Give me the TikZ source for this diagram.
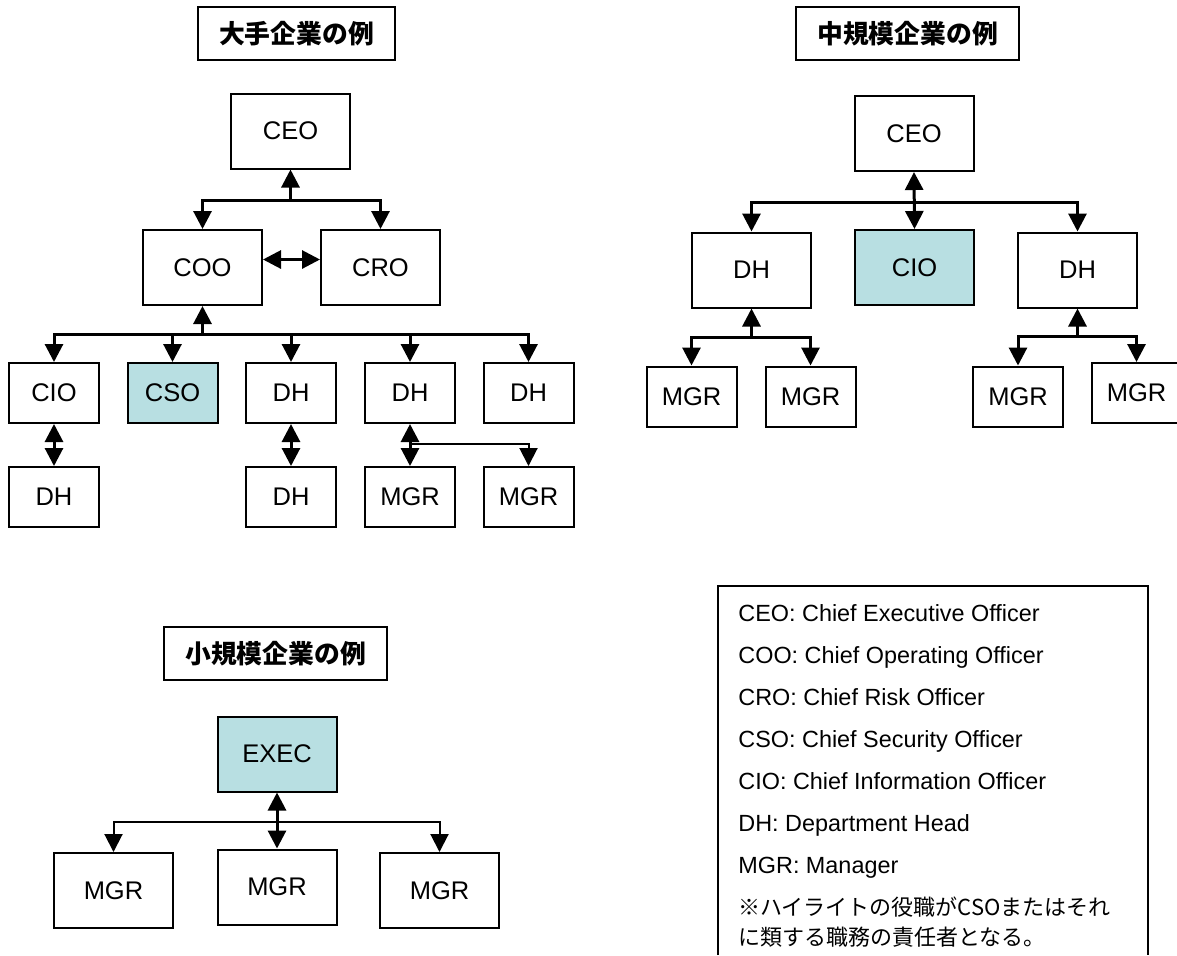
\documentclass[tikz,border=0pt]{standalone}
\usepackage{fontspec}
\setmainfont{Liberation Sans}
\newfontfamily\jpfont{Noto Sans CJK JP}
\usetikzlibrary{arrows.meta}
\definecolor{hilite}{RGB}{184,223,226}

\begin{document}
\begin{tikzpicture}[x=0.5pt,y=-0.5pt,
  post/.style={draw, line width=1pt, inner sep=0pt, minimum width=59.5pt, minimum height=37.5pt, font=\fontsize{12.75}{15}\selectfont},
  unit/.style={post, minimum width=45pt, minimum height=30pt},
  lit/.style={fill=hilite},
  heading/.style={draw, line width=1pt, minimum height=26.5pt, inner xsep=10.5pt, inner ysep=0pt, font=\jpfont\bfseries\fontsize{12.9}{15}\selectfont},
  link/.style={line width=1.5pt, -{Triangle[length=9pt,width=9pt]}},
  both/.style={line width=1.5pt, {Triangle[length=9pt,width=9pt]}-{Triangle[length=9pt,width=9pt]}},
  fine/.style={link, line width=1pt},
  entry/.style={anchor=base west, inner sep=0pt, font=\fontsize{11.7}{14}\selectfont}]
\useasboundingbox (0,0) rectangle (1177,955);

% Large company
\node[heading] (bigt) at (296.5,33.5) {大手企業の例};
\node[post] (lceo) at (290.5,131) {CEO};
\node[post] (lcoo) at (202.5,267.5) {COO};
\node[post] (lcro) at (380.5,267.5) {CRO};
\node[unit] (lcio) at (54,393) {CIO};
\node[unit,lit] (lcso) at (172.5,393) {CSO};
\node[unit] (ldh1) at (291,393) {DH};
\node[unit] (ldh2) at (410,393) {DH};
\node[unit] (ldh3) at (528.5,393) {DH};
\node[unit] (ldh4) at (54,497) {DH};
\node[unit] (ldh5) at (291,497) {DH};
\node[unit] (lmgr1) at (410,497) {MGR};
\node[unit] (lmgr2) at (528.5,497) {MGR};
\coordinate (lj1) at (290.5,200);
\coordinate (lj2) at (202.5,334);
\coordinate (lj3) at (410,444);

% The links:
\draw[link] (lj1) -- (lceo.south);
\draw[link] (lj1) -| (lcoo.north);
\draw[link] (lj1) -| (lcro.north);
\draw[both] ([yshift=4pt]lcoo.east) -- ([yshift=4pt]lcro.west);
\draw[link] (lj2) -- (lcoo.south);
\foreach \n in {lcio,lcso,ldh1,ldh2,ldh3}
  \draw[link] (lj2) -| (\n.north);
\draw[both] (lcio.south) -- (ldh4.north);
\draw[both] (ldh1.south) -- (ldh5.north);
\draw[both] (ldh2.south) -- (lmgr1.north);
\draw[fine] (lj3) -| (lmgr2.north);

% Medium company
\node[heading] (midt) at (907.5,33.5) {中規模企業の例};
\node[post] (mceo) at (914,133.5) {CEO};
\node[post] (mdh1) at (751.5,270) {DH};
\node[post,lit] (mcio) at (914.5,267.5) {CIO};
\node[post] (mdh2) at (1077.5,270) {DH};
\node[unit] (mmgr1) at (691.5,396.5) {MGR};
\node[unit] (mmgr2) at (810.5,396.5) {MGR};
\node[unit] (mmgr3) at (1018,396.5) {MGR};
\node[unit] (mmgr4) at (1136.5,393) {MGR};
\coordinate (mj1) at (914,202);
\coordinate (mj2) at (751.5,337);
\coordinate (mj3) at (1077.5,336);

% The links:
\draw[both] (mceo.south) -- (mcio.north);
\draw[link] (mj1) -| (mdh1.north);
\draw[link] (mj1) -| (mdh2.north);
\draw[link] (mj2) -- (mdh1.south);
\draw[link] (mj2) -| (mmgr1.north);
\draw[link] (mj2) -| (mmgr2.north);
\draw[link] (mj3) -- (mdh2.south);
\draw[link] (mj3) -| (mmgr3.north);
\draw[link] (mj3) -| (mmgr4.north);

% Small company
\node[heading] (smallt) at (275.5,653.5) {小規模企業の例};
\node[post,lit] (sexec) at (277,754) {EXEC};
\node[post] (smgr1) at (113.5,890.5) {MGR};
\node[post] (smgr2) at (277,887) {MGR};
\node[post] (smgr3) at (439.5,890.5) {MGR};
\coordinate (sj) at (277,822);
\draw[both] (sexec.south) -- (smgr2.north);
\draw[fine] (sj) -| (smgr1.north);
\draw[fine] (sj) -| (smgr3.north);

% Legend
\draw[line width=0.8pt] (718,955) |- (1148,586) -- (1148,955);
\foreach \txt [count=\i] in {CEO: Chief Executive Officer, COO: Chief Operating Officer,
    CRO: Chief Risk Officer, CSO: Chief Security Officer, CIO: Chief Information Officer,
    DH: Department Head, MGR: Manager}
  \node[entry] (key\i) at (738,578.9+42.1*\i) {\txt};
\node[entry, font=\jpfont\fontsize{11}{14}\selectfont] (note1) at (738,915.5) {※ハイライトの役職がCSOまたはそれ};
\node[entry, font=\jpfont\fontsize{11}{14}\selectfont] (note2) at (738,945.5) {に類する職務の責任者となる。};
\end{tikzpicture}
\end{document}
